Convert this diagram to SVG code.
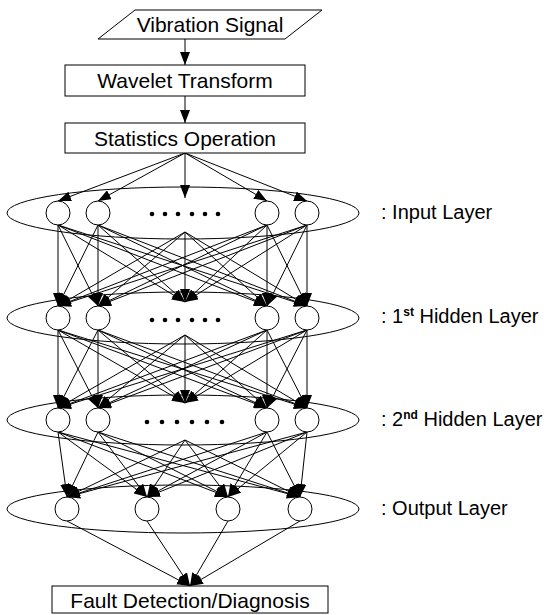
<svg xmlns="http://www.w3.org/2000/svg" width="556" height="615" viewBox="0 0 556 615">
<style>
text{font-family:"Liberation Sans",Arial,sans-serif;fill:#000}
.bt{font-size:21px;text-anchor:middle}
.lb{font-size:20px}
.sup{font-size:12px;font-weight:bold}
.box{fill:#fff;stroke:#000;stroke-width:1}
.lay{fill:none;stroke:#000;stroke-width:1}
.nd{fill:#fff;stroke:#000;stroke-width:1}
#connectors line{stroke:#000;stroke-width:1;marker-end:url(#ah)}
</style>
<defs>
<marker id="ah" markerUnits="userSpaceOnUse" markerWidth="13" markerHeight="10" refX="13" refY="5" orient="auto">
<path d="M0,0 L13,5 L0,10 z" fill="#000"/>
</marker>
</defs>
<rect width="556" height="615" fill="#fff"/>
<g id="layers">
<ellipse class="lay" cx="183" cy="213" rx="176" ry="26"/>
<ellipse class="lay" cx="183" cy="318" rx="176" ry="26"/>
<ellipse class="lay" cx="183" cy="420" rx="176" ry="25"/>
<ellipse class="lay" cx="183" cy="509" rx="176" ry="24"/>
</g>
<g id="connectors">
<line x1="185" y1="39" x2="185" y2="65"/>
<line x1="185" y1="96" x2="185" y2="123"/>
<line x1="185" y1="153" x2="58" y2="201"/>
<line x1="185" y1="153" x2="98" y2="201"/>
<line x1="185" y1="153" x2="185" y2="198"/>
<line x1="185" y1="153" x2="267" y2="201"/>
<line x1="185" y1="153" x2="307" y2="201"/>
<line x1="58" y1="225" x2="58" y2="306"/><line x1="58" y1="225" x2="98" y2="306"/><line x1="58" y1="225" x2="185" y2="302"/><line x1="58" y1="225" x2="267" y2="306"/><line x1="58" y1="225" x2="307" y2="306"/>
<line x1="98" y1="225" x2="58" y2="306"/><line x1="98" y1="225" x2="98" y2="306"/><line x1="98" y1="225" x2="185" y2="302"/><line x1="98" y1="225" x2="267" y2="306"/><line x1="98" y1="225" x2="307" y2="306"/>
<line x1="185" y1="232" x2="58" y2="306"/><line x1="185" y1="232" x2="98" y2="306"/><line x1="185" y1="232" x2="185" y2="302"/><line x1="185" y1="232" x2="267" y2="306"/><line x1="185" y1="232" x2="307" y2="306"/>
<line x1="267" y1="225" x2="58" y2="306"/><line x1="267" y1="225" x2="98" y2="306"/><line x1="267" y1="225" x2="185" y2="302"/><line x1="267" y1="225" x2="267" y2="306"/><line x1="267" y1="225" x2="307" y2="306"/>
<line x1="307" y1="225" x2="58" y2="306"/><line x1="307" y1="225" x2="98" y2="306"/><line x1="307" y1="225" x2="185" y2="302"/><line x1="307" y1="225" x2="267" y2="306"/><line x1="307" y1="225" x2="307" y2="306"/>
<line x1="58" y1="330" x2="58" y2="408"/><line x1="58" y1="330" x2="98" y2="408"/><line x1="58" y1="330" x2="185" y2="403"/><line x1="58" y1="330" x2="267" y2="408"/><line x1="58" y1="330" x2="307" y2="408"/>
<line x1="98" y1="330" x2="58" y2="408"/><line x1="98" y1="330" x2="98" y2="408"/><line x1="98" y1="330" x2="185" y2="403"/><line x1="98" y1="330" x2="267" y2="408"/><line x1="98" y1="330" x2="307" y2="408"/>
<line x1="185" y1="335" x2="58" y2="408"/><line x1="185" y1="335" x2="98" y2="408"/><line x1="185" y1="335" x2="185" y2="403"/><line x1="185" y1="335" x2="267" y2="408"/><line x1="185" y1="335" x2="307" y2="408"/>
<line x1="267" y1="330" x2="58" y2="408"/><line x1="267" y1="330" x2="98" y2="408"/><line x1="267" y1="330" x2="185" y2="403"/><line x1="267" y1="330" x2="267" y2="408"/><line x1="267" y1="330" x2="307" y2="408"/>
<line x1="307" y1="330" x2="58" y2="408"/><line x1="307" y1="330" x2="98" y2="408"/><line x1="307" y1="330" x2="185" y2="403"/><line x1="307" y1="330" x2="267" y2="408"/><line x1="307" y1="330" x2="307" y2="408"/>
<line x1="58" y1="432" x2="67" y2="497"/><line x1="58" y1="432" x2="147" y2="497"/><line x1="58" y1="432" x2="228" y2="497"/><line x1="58" y1="432" x2="300" y2="497"/>
<line x1="98" y1="432" x2="67" y2="497"/><line x1="98" y1="432" x2="147" y2="497"/><line x1="98" y1="432" x2="228" y2="497"/><line x1="98" y1="432" x2="300" y2="497"/>
<line x1="185" y1="440" x2="67" y2="497"/><line x1="185" y1="440" x2="147" y2="497"/><line x1="185" y1="440" x2="228" y2="497"/><line x1="185" y1="440" x2="300" y2="497"/>
<line x1="267" y1="432" x2="67" y2="497"/><line x1="267" y1="432" x2="147" y2="497"/><line x1="267" y1="432" x2="228" y2="497"/><line x1="267" y1="432" x2="300" y2="497"/>
<line x1="307" y1="432" x2="67" y2="497"/><line x1="307" y1="432" x2="147" y2="497"/><line x1="307" y1="432" x2="228" y2="497"/><line x1="307" y1="432" x2="300" y2="497"/>
<line x1="67" y1="521" x2="190" y2="586"/><line x1="147" y1="521" x2="190" y2="586"/><line x1="228" y1="521" x2="190" y2="586"/><line x1="300" y1="521" x2="190" y2="586"/>
</g>
<g id="vibration-signal">
<polygon class="box" points="135,10 322,10 285,39 98,39"/>
<text class="bt" x="210" y="32">Vibration Signal</text>
</g>
<g id="wavelet-transform">
<rect class="box" x="65" y="65" width="240" height="31"/>
<text class="bt" x="185" y="88">Wavelet Transform</text>
</g>
<g id="statistics-operation">
<rect class="box" x="65" y="123" width="240" height="30"/>
<text class="bt" x="185" y="146">Statistics Operation</text>
</g>
<g id="input-layer">
<circle class="nd" cx="58" cy="213" r="12"/><circle class="nd" cx="98" cy="213" r="12"/>
<circle class="nd" cx="267" cy="213" r="12"/><circle class="nd" cx="307" cy="213" r="12"/>
<g fill="#000"><circle cx="152" cy="214" r="2.3"/><circle cx="165" cy="214" r="2.3"/><circle cx="178" cy="214" r="2.3"/><circle cx="192" cy="214" r="2.3"/><circle cx="205" cy="214" r="2.3"/><circle cx="218" cy="214" r="2.3"/></g>
<text class="lb" x="381" y="219">: Input Layer</text>
</g>
<g id="hidden-layer-1">
<circle class="nd" cx="58" cy="318" r="12"/><circle class="nd" cx="98" cy="318" r="12"/>
<circle class="nd" cx="267" cy="318" r="12"/><circle class="nd" cx="307" cy="318" r="12"/>
<g fill="#000"><circle cx="152" cy="320" r="2.3"/><circle cx="165" cy="320" r="2.3"/><circle cx="178" cy="320" r="2.3"/><circle cx="192" cy="320" r="2.3"/><circle cx="205" cy="320" r="2.3"/><circle cx="218" cy="320" r="2.3"/></g>
<text class="lb" x="381" y="323">: 1<tspan class="sup" dy="-7">st</tspan><tspan dy="7"> Hidden Layer</tspan></text>
</g>
<g id="hidden-layer-2">
<circle class="nd" cx="58" cy="420" r="12"/><circle class="nd" cx="98" cy="420" r="12"/>
<circle class="nd" cx="267" cy="420" r="12"/><circle class="nd" cx="307" cy="420" r="12"/>
<g fill="#000"><circle cx="147" cy="422" r="2.3"/><circle cx="162" cy="422" r="2.3"/><circle cx="177" cy="422" r="2.3"/><circle cx="192" cy="422" r="2.3"/><circle cx="207" cy="422" r="2.3"/><circle cx="222" cy="422" r="2.3"/></g>
<text class="lb" x="381" y="426">: 2<tspan class="sup" dy="-7">nd</tspan><tspan dy="7"> Hidden Layer</tspan></text>
</g>
<g id="output-layer">
<circle class="nd" cx="67" cy="509" r="12"/><circle class="nd" cx="147" cy="509" r="12"/>
<circle class="nd" cx="228" cy="509" r="12"/><circle class="nd" cx="300" cy="509" r="12"/>
<text class="lb" x="381" y="515">: Output Layer</text>
</g>
<g id="fault-detection">
<rect class="box" x="52" y="586" width="276" height="27"/>
<text class="bt" x="190" y="608">Fault Detection/Diagnosis</text>
</g>
</svg>
